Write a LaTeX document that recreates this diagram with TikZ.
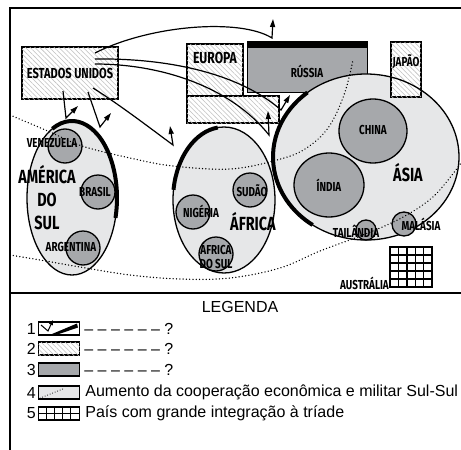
\documentclass[tikz,border=0pt]{standalone}
\usepackage{fontspec}
\setmainfont{Liberation Sans}
\newfontfamily\mapfont[FakeStretch=0.76]{Fira Sans}
\usetikzlibrary{positioning,patterns.meta,arrows.meta}

\definecolor{regiao}{HTML}{E6E7E8}
\definecolor{pais}{HTML}{A6A8AB}

\tikzset{
  contorno/.style={draw=black,line width=1.3pt},
  grossa/.style={draw=black,line width=4pt},
  hachura/.style={draw=black,line width=1.2pt,fill=white,
    postaction={pattern color=black!25,pattern={Lines[angle=-45,distance=3.4pt,line width=0.55pt]}}},
  paisc/.style={draw=black,line width=1.3pt,fill=pais},
  rotulo/.style={font=\mapfont\bfseries\fontsize{13}{13}\selectfont,inner sep=0pt,align=center},
  grande/.style={font=\mapfont\bfseries\fontsize{19}{20}\selectfont,inner sep=0pt,align=center},
  seta/.style={line width=1.2pt,-{Triangle[length=8pt,width=5pt]}},
  pontilhado/.style={line width=1.4pt,line cap=round,dash pattern=on 0.1pt off 3.2pt},
  legtexto/.style={font=\fontsize{16}{16}\selectfont,inner sep=0pt},
  legcaixa/.style={draw=black,line width=1.2pt,minimum width=41pt,minimum height=13pt,inner sep=0pt,anchor=west}
}

\begin{document}
\begin{tikzpicture}[x=1pt,y=-1pt]
\useasboundingbox (0,0) rectangle (461,450);
\def\americasul{(72,198) ellipse (45pt and 77pt)}
\def\africa{(224,200) ellipse (51pt and 73pt)}
\def\asia{(366,157) ellipse (93pt and 83pt)}

% moldura
\draw[line width=1.5pt] (461,8) -- (10,8) -- (10,450);
\draw[line width=1.5pt] (10,293) -- (461,293);

% triade
\node[hachura,rotulo,font=\mapfont\bfseries\fontsize{14.5}{14.5}\selectfont,
  minimum width=96pt,minimum height=52pt] (eua) at (70,73) {ESTADOS UNIDOS};
\draw[hachura] (187,44) rectangle (243,96);
\draw[hachura] (187,96) rectangle (279,123);
\node[rotulo,font=\mapfont\bfseries\fontsize{16}{16}\selectfont] (europa) at (215,58) {EUROPA};
\fill[black] (247,41) rectangle (368,47);
\draw[fill=pais,line width=1pt] (247,47) rectangle (367,92);
\node[rotulo] (russia) at (307,71) {RÚSSIA};

% regioes do sul
\fill[regiao] \americasul; \draw[contorno] \americasul;
\fill[regiao] \africa; \draw[contorno] \africa;
\fill[regiao] \asia;
\draw[hachura] (391,42) rectangle (421,97);
\node[rotulo] (japao) at (406,62) {JAPÃO};
\draw[contorno] \asia;

\draw[grossa] (72,198) ++(116:45pt and 77pt) arc[start angle=116,end angle=-15,x radius=45pt,y radius=77pt];
\draw[grossa] (224,200) ++(97:51pt and 73pt) arc[start angle=97,end angle=172,x radius=51pt,y radius=73pt];
\draw[grossa] (366,157) ++(129:93pt and 83pt) arc[start angle=129,end angle=235,x radius=93pt,y radius=83pt];

% paises
\draw[paisc] (65,146) circle (17pt);
\draw[paisc] (98,192) circle (17pt);
\draw[paisc] (83,248) circle (17pt);
\draw[paisc] (193,212) circle (17pt);
\draw[paisc] (250,190) circle (17pt);
\draw[paisc] (216,254) circle (17pt);
\draw[paisc] (373,131) ellipse (34pt and 32pt);
\draw[paisc] (329,185) ellipse (35pt and 32pt);
\draw[paisc] (366,230) circle (10pt);
\draw[paisc] (404,224) circle (12pt);

\node[rotulo] (venezuela) at (52,143) {VENEZUELA};
\node[rotulo] (brasil) at (95,192) {BRASIL};
\node[rotulo] (argentina) at (71,247) {ARGENTINA};
\node[grande] (america) at (47,198) {AMÉRICA\\[3pt]DO\\[3pt]SUL};
\node[rotulo] (nigeria) at (201,211) {NIGÉRIA};
\node[rotulo] (sudao) at (252,191) {SUDÃO};
\node[rotulo] (afsul) at (216,255) {ÁFRICA\\[1pt]DO SUL};
\node[grande] (africaR) at (253,222) {ÁFRICA};
\node[rotulo] (china) at (373,130) {CHINA};
\node[rotulo] (india) at (329,185) {ÍNDIA};
\node[grande] (asiaR) at (408,173) {ÁSIA};
\node[rotulo] (tailandia) at (356,231) {TAILÂNDIA};
\node[rotulo] (malasia) at (421,224) {MALÁSIA};

% australia
\draw[line width=1.4pt] (390,247) rectangle (432,287);
\foreach \i in {1,...,4} {
  \draw[line width=1.4pt] (390+8.4*\i,247) -- (390+8.4*\i,287);
  \draw[line width=1.4pt] (390,247+8*\i) -- (432,247+8*\i);
}
\node[rotulo,anchor=east] (australia) at (389,283) {AUSTRÁLIA};

% cooperacao sul-sul
\draw[pontilhado] plot[smooth,tension=0.6] coordinates {(10,115) (50,132) (82,146) (130,158) (173,166) (230,169) (277,160) (305,149) (328,128) (344,95) (353,60)};
\draw[pontilhado] plot[smooth,tension=0.6] coordinates {(10,255) (40,260) (80,267) (130,275) (180,279) (230,278) (280,268) (320,251) (368,233) (405,216) (435,195) (461,163)};

% fluxos
\coordinate (s1) at (95,53);  \coordinate (k1) at (272,38);  \coordinate (t1) at (273,19);
\coordinate (s2) at (95,59);  \coordinate (k2) at (281,110); \coordinate (t2) at (290,95);
\coordinate (s3) at (95,64);  \coordinate (k3) at (269,135); \coordinate (t3) at (268,111);
\coordinate (s4) at (93,88);  \coordinate (k4) at (173,145); \coordinate (t4) at (170,126);
\coordinate (s5) at (63,91);  \coordinate (k5) at (66,118);  \coordinate (t5) at (78,106);
\coordinate (s6) at (88,92);  \coordinate (k6) at (100,127); \coordinate (t6) at (111,113);
\draw[seta] (s1) .. controls (150,25) and (240,18) .. (k1) -- (t1);
\draw[seta] (s2) .. controls (170,58) and (240,74) .. (k2) -- (t2);
\draw[seta] (s3) .. controls (160,64) and (230,86) .. (k3) -- (t3);
\draw[seta] (s4) .. controls (120,105) and (150,128) .. (k4) -- (t4);
\draw[seta] (s5) -- (k5) -- (t5);
\draw[seta] (s6) -- (k6) -- (t6);

% legenda
\node[legtexto] (legenda) at (240,307) {LEGENDA};
\foreach \n/\y in {1/328.5,2/348.5,3/369.5,4/392.5,5/413.5}
  \node[legtexto,anchor=east] (num\n) at (36,\y) {\n};
\node[legcaixa] (caixa1) at (38,328.5) {};
\node[legcaixa,hachura] (caixa2) at (38,348.5) {};
\node[legcaixa,fill=pais] (caixa3) at (38,369.5) {};
\node[legcaixa,fill=regiao] (caixa4) at (38,392.5) {};
\node[legcaixa] (caixa5) at (38,413.5) {};
\coordinate (ls) at (41,325); \coordinate (lk) at (48,331); \coordinate (lt) at (53,320);
\draw[line width=1pt,-{Triangle[length=5pt,width=4pt]}] (ls) -- (lk) -- (lt);
\fill[black] (52,334) -- (77,323.5) -- (78,327.5) -- (59,334) -- cycle;
\draw[pontilhado,line width=1pt,dash pattern=on 0.1pt off 2.6pt] (caixa4.south west) ++(2,-1.5) -- ++(25,-10);
\foreach \i in {1,...,4}
  \draw[line width=1.1pt] (38+8.2*\i,407) -- (38+8.2*\i,420);
\draw[line width=1.1pt] (caixa5.west) -- (caixa5.east);
\node[legtexto,right=4pt of caixa1] (tx1) {– – – – – – ?};
\node[legtexto,right=4pt of caixa2] (tx2) {– – – – – – ?};
\node[legtexto,right=4pt of caixa3] (tx3) {– – – – – – ?};
\node[legtexto,right=5pt of caixa4] (tx4) {Aumento da cooperação econômica e militar Sul-Sul};
\node[legtexto,right=5pt of caixa5] (tx5) {País com grande integração à tríade};
\end{tikzpicture}
\end{document}
